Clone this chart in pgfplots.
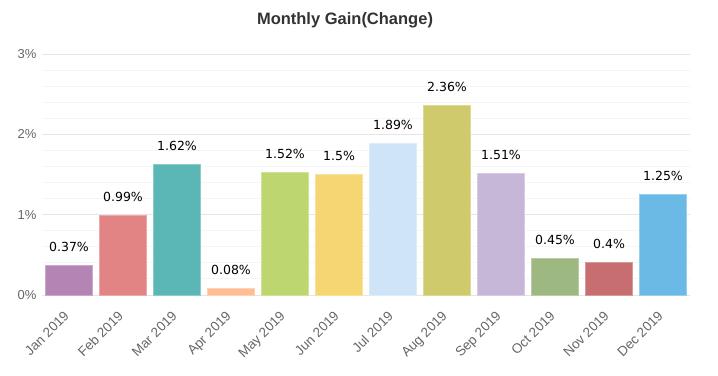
\documentclass[border=0pt]{standalone}
\usepackage{pgfplots}
\pgfplotsset{compat=1.18}
\usepackage{fontspec}
\setmainfont{Liberation Sans}
\newfontfamily\dv{DejaVu Sans}
\definecolor{c1}{HTML}{B384B4}
\definecolor{c2}{HTML}{E38484}
\definecolor{c3}{HTML}{5BB6B6}
\definecolor{c4}{HTML}{FFBD95}
\definecolor{c5}{HTML}{BDD66F}
\definecolor{c6}{HTML}{F6D673}
\definecolor{c7}{HTML}{D0E4F8}
\definecolor{c8}{HTML}{CFCA6B}
\definecolor{c9}{HTML}{C6B6D7}
\definecolor{c10}{HTML}{9DB880}
\definecolor{c11}{HTML}{C76E70}
\definecolor{c12}{HTML}{6BBAE5}
\definecolor{tickgray}{HTML}{666666}
\definecolor{titlegray}{HTML}{333333}
\pgfplotsset{
  mybar/.style={fill=#1, draw=#1!70!white, line width=0.8bp},
}
\begin{document}
\begin{tikzpicture}
\useasboundingbox (0,0) rectangle (718bp,376bp);
\node[font=\fontsize{16.5bp}{18bp}\selectfont\bfseries, text=titlegray] at (345bp,356bp) {Monthly Gain(Change)};
\begin{axis}[
  at={(42bp,81bp)}, anchor=south west,
  scale only axis, width=648bp, height=241bp,
  xmin=-0.5, xmax=11.5, ymin=0, ymax=3,
  axis line style={draw=none},
  ybar, bar width=47bp, bar shift=0pt,
  xtick={0,1,2,3,4,5,6,7,8,9,10,11},
  xticklabels={Jan 2019,Feb 2019,Mar 2019,Apr 2019,May 2019,Jun 2019,Jul 2019,Aug 2019,Sep 2019,Oct 2019,Nov 2019,Dec 2019},
  xticklabel style={rotate=45, anchor=north east, font=\fontsize{13.5bp}{15bp}\selectfont, text=tickgray, inner sep=0bp, xshift=-14.8bp, yshift=-6.4bp},
  ytick={0,1,2,3},
  yticklabels={0\%,1\%,2\%,3\%},
  yticklabel style={font=\fontsize{13bp}{15bp}\selectfont, text=tickgray, xshift=-2bp},
  minor ytick={0.2,0.4,0.6,0.8,1.2,1.4,1.6,1.8,2.2,2.4,2.6,2.8},
  major tick length=0pt, minor tick length=0pt,
  ymajorgrids, yminorgrids,
  major grid style={draw=black!10, line width=1bp},
  minor grid style={draw=black!4, line width=1bp},
  axis on top=false,
  /pgf/number format/assume math mode=true,
  nodes near coords={\pgfmathprintnumber[fixed,precision=2]{\pgfplotspointmeta}\%},
  every node near coord/.append style={font=\dv\fontsize{12.5bp}{14bp}\selectfont, text=black, anchor=base, inner sep=0pt, yshift=14bp},
  clip=false,
]
\addplot[mybar=c1] coordinates {(0,0.37)};
\addplot[mybar=c2] coordinates {(1,0.99)};
\addplot[mybar=c3] coordinates {(2,1.62)};
\addplot[mybar=c4] coordinates {(3,0.08)};
\addplot[mybar=c5] coordinates {(4,1.52)};
\addplot[mybar=c6] coordinates {(5,1.5)};
\addplot[mybar=c7] coordinates {(6,1.89)};
\addplot[mybar=c8] coordinates {(7,2.36)};
\addplot[mybar=c9] coordinates {(8,1.51)};
\addplot[mybar=c10] coordinates {(9,0.45)};
\addplot[mybar=c11] coordinates {(10,0.4)};
\addplot[mybar=c12] coordinates {(11,1.25)};
\end{axis}
\end{tikzpicture}
\end{document}
